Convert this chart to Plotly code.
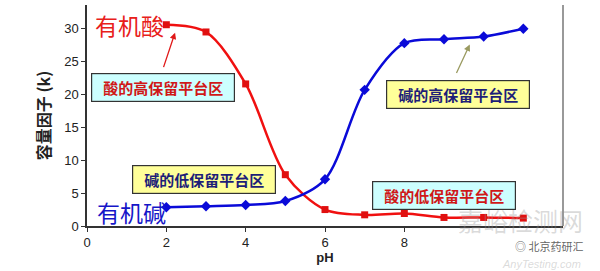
import plotly.graph_objects as go

ph = [2, 3, 4, 5, 6, 7, 8, 9, 10, 11]
acid_k = [30.6, 29.5, 21.6, 7.8, 2.5, 1.7, 1.9, 1.3, 1.3, 1.2]
base_k = [2.85, 3.0, 3.2, 3.8, 7.1, 20.7, 27.8, 28.4, 28.8, 30.0]
x_ticks = [0, 2, 4, 6, 8]
y_ticks = [0, 5, 10, 15, 20, 25, 30]

CJK = "Noto Sans CJK SC"
LAT = "Liberation Sans"

fig = go.Figure()
fig.add_trace(go.Scatter(x=ph, y=acid_k, mode="lines+markers", line=dict(color="#F01010", width=2.5, shape="spline", smoothing=0.9),
                         marker=dict(symbol="square", size=7, color="#E01010"), showlegend=False))
fig.add_trace(go.Scatter(x=ph, y=base_k, mode="lines+markers", line=dict(color="#0A0AD8", width=2.5, shape="spline", smoothing=0.9),
                         marker=dict(symbol="diamond", size=8, color="#0A0AD8"), showlegend=False))

ann = []
# watermark (drawn first, behind)
ann.append(dict(x=1.045, y=0.025, xref="paper", yref="paper", xanchor="right", yanchor="middle", text="嘉峪检测网", showarrow=False,
                font=dict(family=CJK, size=25, color="rgba(150,150,150,0.35)"), borderpad=0))
ann.append(dict(x=1.045, y=-0.09, xref="paper", yref="paper", xanchor="right", yanchor="middle", text="◎ 北京药研汇", showarrow=False,
                font=dict(family=CJK, size=11, color="rgba(70,70,70,0.85)"), borderpad=0))
ann.append(dict(x=1.04, y=-0.17, xref="paper", yref="paper", xanchor="right", yanchor="middle", text="<i>AnyTesting.com</i>", showarrow=False,
                font=dict(family=LAT, size=11, color="rgba(150,150,150,0.35)"), borderpad=0))
# big labels
ann.append(dict(x=1.06, y=30.55, text="有机酸", showarrow=False, font=dict(family=CJK, size=23, color="#E8201A")))
ann.append(dict(x=1.13, y=2.1, text="有机碱", showarrow=False, font=dict(family=CJK, size=23, color="#1515C8")))
# boxes
def box(x, y, text, bg, fc):
    return dict(x=x, y=y, text=text, showarrow=False, bgcolor=bg, bordercolor="#333333", borderwidth=1.2,
                width=140, height=25, borderpad=1, font=dict(family=CJK, size=15, color=fc))
ann.append(box(1.92, 21.1, "<b>酸的高保留平台区</b>", "#CCFFFF", "#D01818"))
ann.append(box(9.35, 20.05, "<b>碱的高保留平台区</b>", "#FFFF99", "#1E1E78"))
ann.append(box(2.95, 7.03, "<b>碱的低保留平台区</b>", "#FFFF99", "#1E1E78"))
ann.append(box(9.0, 4.67, "<b>酸的低保留平台区</b>", "#CCFFFF", "#D01818"))
# arrows
ann.append(dict(x=2.22, y=29.4, ax=-12, ay=36, text="", showarrow=True, arrowhead=2, arrowsize=1, arrowwidth=1.3, arrowcolor="#E01818"))
ann.append(dict(x=9.65, y=27.6, ax=-14, ay=30, text="", showarrow=True, arrowhead=2, arrowsize=1, arrowwidth=1.3, arrowcolor="#9A9A60"))

fig.update_layout(
    width=600, height=271,
    margin=dict(l=87, r=37, t=5, b=45),
    paper_bgcolor="white", plot_bgcolor="white",
    annotations=ann,
    xaxis=dict(range=[0, 12], tickvals=x_ticks, ticktext=[str(v) for v in x_ticks], showgrid=False, zeroline=False,
               showline=True, linecolor="#333333", linewidth=1.5, ticks="outside", ticklen=4, tickcolor="#333333",
               tickfont=dict(family=LAT, size=13, color="#222222"),
               title=dict(text="<b>pH</b>", font=dict(family=LAT, size=13, color="#222222"), standoff=2)),
    yaxis=dict(range=[0, 33.6], tickvals=y_ticks, showgrid=False, zeroline=False,
               showline=True, linecolor="#333333", linewidth=1.5, ticks="outside", ticklen=4, tickcolor="#333333",
               tickfont=dict(family=LAT, size=13, color="#222222"),
               title=dict(text="<b>容量因子 (k)</b>", font=dict(family=CJK, size=16, color="#222222"), standoff=10)),
    shapes=[dict(type="line", xref="paper", yref="paper", x0=1, x1=1, y0=0, y1=1, line=dict(color="#555555", width=1.2))],
)

fig.write_html("out.html")
